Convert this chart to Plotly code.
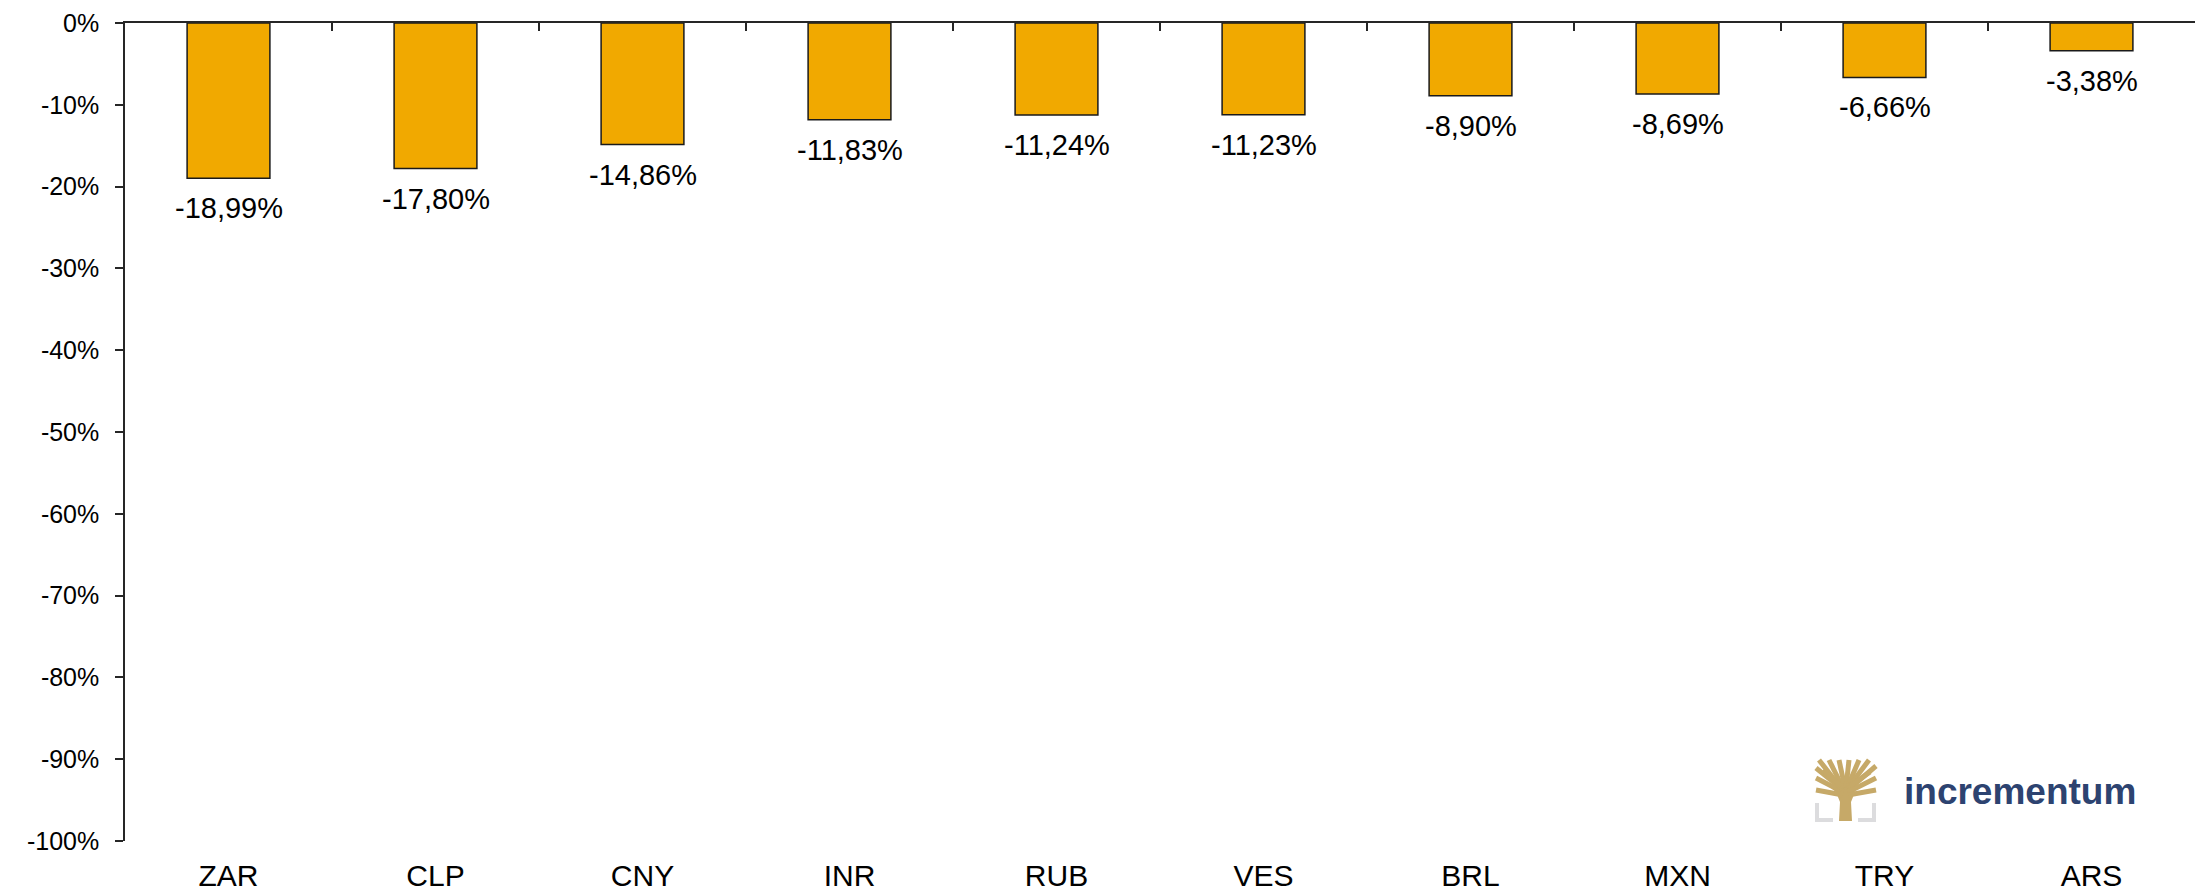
import plotly.graph_objects as go

currencies = ["ZAR", "CLP", "CNY", "INR", "RUB", "VES", "BRL", "MXN", "TRY", "ARS"]
changes = [-18.99, -17.80, -14.86, -11.83, -11.24, -11.23, -8.90, -8.69, -6.66, -3.38]
y_ticks = list(range(0, -101, -10))
y_tick_labels = [f"{v}%" for v in y_ticks]
value_labels = [f"{v:.2f}%".replace(".", ",") for v in changes]

FONT = "Arial, Liberation Sans, sans-serif"
OFF = 8  # page body margin of the browser
W, H = 2204 - OFF, 891 - OFF
L, R, T, B = 117, 9, 15, 50

n = len(currencies)
positions = list(range(n))

fig = go.Figure()
fig.add_trace(go.Bar(
    x=currencies, y=changes, width=0.40,
    marker=dict(color="#F1A900", line=dict(color="#1a1a1a", width=1.5)),
    hoverinfo="x+y", showlegend=False,
))
# invisible companion trace so the top (zero-line) axis is drawn
fig.add_trace(go.Scatter(
    x=positions, y=[0] * n, xaxis="x2", yaxis="y", mode="markers",
    marker=dict(opacity=0), hoverinfo="skip", showlegend=False,
))

for c, v, lab in zip(currencies, changes, value_labels):
    fig.add_annotation(x=c, y=v, xref="x", yref="y", text=lab, showarrow=False,
                       yanchor="top", yshift=-12,
                       font=dict(family=FONT, size=29, color="#000000"))

# logo (incrementum) - coordinates given in screen pixels
def px(xp):
    return (xp - OFF - L) / (W - L - R)

def py(yp):
    return (H - B - (yp - OFF)) / (H - T - B)

gold = "#C6A968"
grey = "#DCDCDE"
trunk = [(1839, 821), (1840, 802), (1836, 792), (1826, 784), (1852, 784), (1855, 792), (1851, 802), (1852, 821)]
path = "M " + " L ".join(f"{px(a)},{py(b)}" for a, b in trunk) + " Z"
fig.add_shape(type="path", path=path, xref="paper", yref="paper", fillcolor=gold, line=dict(width=0))
branches = [
    ((1843, 792), (1816, 778)), ((1842, 789), (1816, 768)), ((1841, 788), (1819, 760)),
    ((1843, 788), (1829, 760)), ((1845, 788), (1839, 760)), ((1846, 788), (1849, 760)),
    ((1847, 788), (1859, 760)), ((1848, 788), (1869, 760)), ((1849, 789), (1876, 766)),
    ((1848, 792), (1876, 778)), ((1843, 795), (1816, 790)), ((1848, 795), (1876, 790)),
    ((1841, 786), (1823, 770)), ((1850, 786), (1870, 772)),
]
for (x0, y0), (x1, y1) in branches:
    fig.add_shape(type="line", x0=px(x0), y0=py(y0), x1=px(x1), y1=py(y1),
                  xref="paper", yref="paper", line=dict(color=gold, width=5))
for pts in ([(1817, 803), (1817, 820), (1833, 820)], [(1874, 803), (1874, 820), (1858, 820)]):
    p = "M " + " L ".join(f"{px(a)},{py(b)}" for a, b in pts)
    fig.add_shape(type="path", path=p, xref="paper", yref="paper", line=dict(color=grey, width=4))
fig.add_annotation(x=px(1902), y=py(791), xref="paper", yref="paper", text="<b>incrementum</b>",
                   showarrow=False, xanchor="left", yanchor="middle",
                   font=dict(family=FONT, size=37, color="#2D4370"))

fig.update_layout(
    width=W, height=H,
    margin=dict(l=L, r=R, t=T, b=B),
    paper_bgcolor="white", plot_bgcolor="white",
    font=dict(family=FONT, color="#000000"),
    xaxis=dict(
        type="category", categoryorder="array", categoryarray=currencies,
        range=[-0.5, n - 0.5], automargin=False,
        showline=False, ticks="", showgrid=False, zeroline=False,
        tickfont=dict(size=30, family=FONT, color="#000000"), ticklabelstandoff=14,
        ticklabeloverflow="allow",
    ),
    xaxis2=dict(
        overlaying="x", side="top", type="linear", range=[-0.5, n - 0.5], automargin=False,
        tickmode="array", tickvals=[i - 0.5 for i in range(n + 1)],
        showticklabels=False, ticks="inside", ticklen=8, tickwidth=1.5, tickcolor="#262626",
        showline=True, linecolor="#262626", linewidth=1.5, showgrid=False, zeroline=False,
    ),
    yaxis=dict(
        range=[-100, 0], tickmode="array", tickvals=y_ticks, ticktext=y_tick_labels,
        automargin=False, ticklabeloverflow="allow",
        showline=True, linecolor="#262626", linewidth=1.5,
        ticks="outside", ticklen=8, tickwidth=1.5, tickcolor="#262626",
        showgrid=False, zeroline=False,
        tickfont=dict(size=25, family=FONT, color="#000000"), ticklabelstandoff=11,
    ),
    bargap=0.6,
)

fig.write_html("out.html")
